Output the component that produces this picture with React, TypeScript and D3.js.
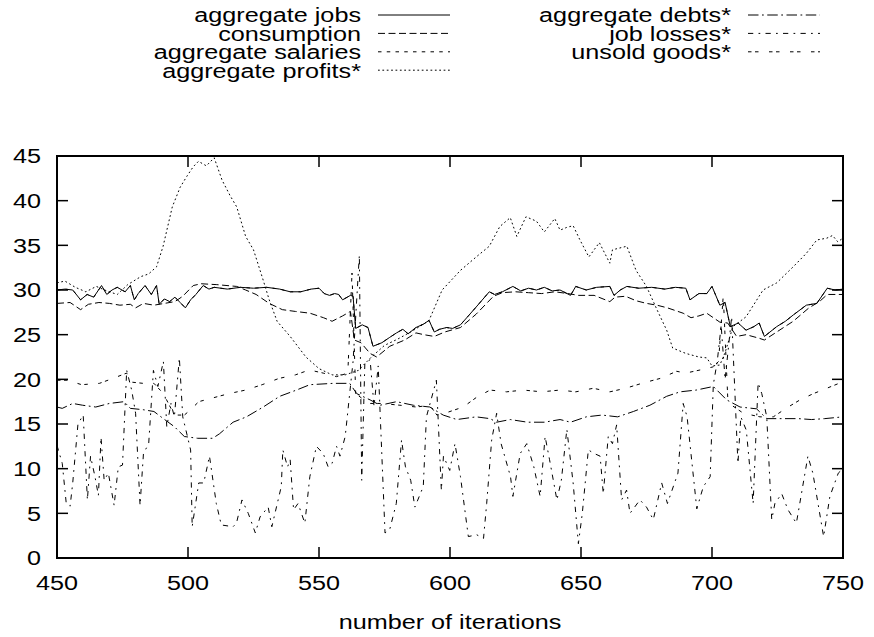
import React from "react";
import * as d3 from "d3";

type P = [number, number];

const xTicks = [450, 500, 550, 600, 650, 700, 750];
const yTicks = [0, 5, 10, 15, 20, 25, 30, 35, 40, 45];

const jobs: P[] = [[450,30.0],[453,30.1],[456,30.0],[459,28.9],[461.5,29.5],[464,29.2],[467,30.5],[469,29.5],[471,30],[473,30.3],[476,29.8],[478,30.5],[479.5,28.9],[481,29.6],[483.6,30.5],[486,29.5],[488,30.5],[489,28.4],[491,29],[493,28.7],[495,29.2],[497,28.6],[499,28.0],[501,28.9],[503,29.5],[505.8,30.5],[508,30.1],[510,30.3],[515,30.1],[520,30.3],[525,30.2],[530,30.3],[535,30.1],[539,29.8],[543,29.8],[547,30.1],[550,30.2],[552,29.6],[554,29.4],[556,29.6],[557.5,29.5],[559,28.9],[562,29.4],[563,29.3],[564,25.7],[566.5,26.1],[568.7,25.8],[570.6,23.7],[574,24.1],[577,24.7],[579.6,25.2],[582,25.6],[584,25.1],[587,25.8],[590,26.2],[592,26.6],[594,25.3],[596,25.6],[598.7,25.8],[601,25.7],[604,26.1],[607,27.1],[610,28.1],[615,29.8],[617,29.5],[620,29.8],[624,30.4],[627,29.9],[630,30.2],[633,30.0],[636,30.3],[639,29.9],[642,30.0],[646,29.4],[648,30.4],[652,30.0],[656,30.3],[661,30.4],[662.6,29.4],[665,30.0],[667.5,30.4],[672,30.2],[677,30.3],[682,30.1],[686,30.3],[690,30.2],[691.6,28.9],[695,29.6],[698,29.6],[700,30.4],[703,28.3],[705,28.6],[707,25.9],[710,26.3],[713,25.5],[716,25.9],[718,26.3],[720,24.8],[724.7,25.9],[728,26.5],[731,27.2],[736,28.3],[740,28.5],[744,30.2],[747,30.0],[750,30.1]];

const consumption: P[] = [[450,28.5],[455,28.6],[459,27.8],[462,28.4],[466,28.6],[470,28.5],[474,28.3],[478,28.4],[480,28],[483,28.5],[487,28.3],[491,28.5],[495,28.7],[498,29.3],[502,30.5],[505,30.7],[511,30.6],[518.6,30.4],[522,30.0],[526,29.5],[531,28.5],[536,27.8],[541,27.6],[546.6,27.4],[551.7,26.9],[555,26.5],[559,27.1],[562,27.6],[563.5,24.4],[566,24.1],[569.5,22.9],[572,22.5],[577,23.7],[582.7,24.4],[587,25.2],[590,25.0],[594,24.8],[598,25.3],[604,25.8],[610,27.3],[616.6,29.3],[620,29.7],[625,29.8],[630,29.7],[635,29.6],[640,29.8],[645,29.6],[649,29.4],[655,29.4],[661,28.7],[663,29.2],[667,29.3],[671,28.8],[675,28.5],[679,28.3],[683,28.0],[689,27.4],[692,26.9],[695,27.1],[698,27.4],[703,26.4],[706,26.3],[709.4,24.8],[713,25],[718,24.6],[720,24.4],[724.7,25.3],[731,26.5],[737,28.0],[741,28.7],[744,29.5],[750,29.5]];

// salaries lie on top of the jobs curve in the picture
const salaries: P[] = [[450,30.0],[453,30.1],[456,30.0],[459,28.9],[461.5,29.5],[464,29.2],[467,30.5],[469,29.5],[471,30],[473,30.3],[476,29.8],[478,30.5],[479.5,28.9],[481,29.6],[483.6,30.5],[486,29.5],[488,30.5],[489,28.4],[491,29],[493,28.7],[495,29.2],[497,28.6],[499,28.0],[501,28.9],[503,29.5],[505.8,30.5],[508,30.1],[510,30.3],[515,30.1],[520,30.3],[525,30.2],[530,30.3],[535,30.1],[539,29.8],[543,29.8],[547,30.1],[550,30.2],[552,29.6],[554,29.4],[556,29.6],[557.5,29.5],[559,28.9],[562,29.4],[563,29.3],[564,25.7],[566.5,26.1],[568.7,25.8],[570.6,23.7],[574,24.1],[577,24.7],[579.6,25.2],[582,25.6],[584,25.1],[587,25.8],[590,26.2],[592,26.6],[594,25.3],[596,25.6],[598.7,25.8],[601,25.7],[604,26.1],[607,27.1],[610,28.1],[615,29.8],[617,29.5],[620,29.8],[624,30.4],[627,29.9],[630,30.2],[633,30.0],[636,30.3],[639,29.9],[642,30.0],[646,29.4],[648,30.4],[652,30.0],[656,30.3],[661,30.4],[662.6,29.4],[665,30.0],[667.5,30.4],[672,30.2],[677,30.3],[682,30.1],[686,30.3],[690,30.2],[691.6,28.9],[695,29.6],[698,29.6],[700,30.4],[703,28.3],[705,28.6],[707,25.9],[710,26.3],[713,25.5],[716,25.9],[718,26.3],[720,24.8],[724.7,25.9],[728,26.5],[731,27.2],[736,28.3],[740,28.5],[744,30.2],[747,30.0],[750,30.1]];

const profits: P[] = [[450,30.8],[453,31],[457,30.3],[461,29.8],[465,30.4],[469,29.9],[473,29.5],[477,30.6],[482,31.5],[485,31.8],[488,32.6],[490.5,34.9],[494,39.3],[497,41.5],[499.5,42.7],[502,43.8],[504,44.4],[507,43.9],[510,44.8],[513,42.3],[516,40.6],[518.6,39.3],[522,36],[525,34.5],[528.7,31.1],[531,28.9],[534,26.5],[539,24.8],[545,22.5],[550,21.2],[555,20.5],[560,20.5],[565,21],[570,22.5],[575,23.8],[580,24.5],[585,25.3],[590,26.2],[592,26.6],[597,30],[604,32.2],[610,33.7],[615,34.9],[619,37.1],[623,38.1],[625.5,36],[629,38.2],[633,37.7],[636,36.5],[640,38],[642,36.7],[644.5,37],[647,37.2],[649.6,35.6],[653,33.7],[657,35.3],[661,33],[662,34.5],[667.5,34.9],[671,32.2],[675,30.4],[679,27.8],[682.7,25.5],[685,23.5],[690,22.9],[695,22.5],[698,22.4],[700,21.5],[703,21.6],[705,23],[708,25.9],[713,27],[719.5,30],[724.7,30.8],[731,32.6],[736,34.1],[740,35.6],[743.8,35.8],[746,36.1],[748,35.4],[750,35.8]];

const debts: P[] = [[450,16.9],[452,16.75],[456,17.3],[459.8,17.1],[464.8,16.9],[470,17.3],[475.6,17.5],[478,16.75],[482.9,16.6],[487,16.4],[490.6,15.6],[494.8,14.7],[498.6,13.6],[503.7,13.4],[509.4,13.4],[512,13.9],[517.2,15.2],[522.3,15.8],[528.7,16.9],[535,18.1],[541.4,18.8],[546.5,19.4],[555.4,19.55],[561.7,19.55],[564.4,18.4],[569.5,17.7],[573.3,17.1],[579.6,17.5],[586,17.1],[592.3,16.9],[597.4,16],[602.6,15.5],[610,15.8],[615.3,15.6],[617.8,15.2],[623,15.5],[629.6,15.2],[636,15.2],[642,15.5],[646,15.2],[652,15.8],[658,16],[664,15.8],[670,16.4],[676.3,17.1],[682.7,18.1],[687.8,18.6],[694,18.8],[700.5,19.2],[705.6,17.7],[710.7,16.9],[717,16.7],[720.9,15.6],[727,15.6],[733,15.6],[738,15.5],[743,15.6],[750,15.8]];

const jobLosses: P[] = [[450,12.6],[452,10.6],[453.5,6.2],[455,5.8],[456,8.4],[458,15],[460,16],[461.6,6.5],[462.8,11.4],[464.5,9.1],[465.8,7],[466.8,13.5],[468,8.7],[469.6,9.5],[471.8,5.9],[473.4,10.2],[475,10.4],[476.6,21],[478.5,18.8],[480,16.2],[481.7,5.9],[483,11.7],[485,12.8],[486.8,21],[488.5,19.2],[490.6,22],[491.9,14.7],[493.5,17.3],[494.8,15.8],[496.7,22.4],[498,15.8],[501,12.1],[501.6,3.5],[504.1,8.4],[506,8.4],[508.2,11.4],[510.8,6.1],[512.7,3.7],[517.2,3.5],[518.5,3.9],[520.6,6.5],[523,5],[525.7,2.8],[527.5,4.6],[530.6,5.7],[532,3.5],[535.6,8],[536.2,12.1],[538,10.2],[539,11],[540.3,5.4],[542,6.1],[544.6,3.9],[546.5,9.1],[549,12.5],[551.6,11.7],[553.5,10.2],[555,10.6],[556.7,12.5],[558,11.4],[560,13.6],[563,22],[565.4,33.9],[566.3,8.7],[567.5,21.8],[569.5,22.2],[571,17],[572.6,21.5],[575.2,2.8],[577,3.2],[579.5,6.1],[581.5,13.2],[583,10.2],[585,8.7],[586.6,5.7],[589.8,8.0],[591,15.8],[594.8,19.9],[596.7,7.6],[597.5,11.4],[599.9,9.8],[601.9,12.8],[604,9.1],[607,2.4],[610.2,2.6],[612.8,2.2],[614,6.1],[615.9,13.2],[617.8,16.2],[619.5,12.8],[623.1,9.1],[624,6.9],[626.8,11.7],[629.3,12.8],[632,10.2],[634.4,6.9],[636.3,13.6],[638,11],[640.8,6.5],[642.5,8.7],[644.6,14.4],[647,8.4],[649,1.6],[650.5,5],[652.8,12.1],[655,11.7],[657.3,11.4],[658.5,7.2],[660.4,13.6],[662,12.8],[663.6,14.9],[665.5,6.5],[667.4,7.6],[668.7,5],[672.5,6.5],[675,5.7],[677.6,4.3],[680.8,8.4],[683,6.1],[687,9.5],[689,17.3],[690.5,15.8],[694.2,5.5],[696.7,8],[699.3,9.1],[700.5,19.4],[702,22],[703.5,26],[705,20],[707.5,27],[709.9,10.6],[711,15.8],[713.1,14.3],[715.7,6.1],[717.6,19.6],[719,18.4],[720.9,15.8],[722.8,4.3],[724,6.1],[726.6,7.2],[729,5.4],[732.2,3.9],[733.5,6.1],[736.6,11.4],[738.5,9.5],[742.6,2.4],[745,6.9],[748.2,9.5],[750,10]];

const unsoldGoods: P[] = [[450,19.9],[454,19.9],[459.4,19.4],[466.2,19.55],[471.3,20.1],[476.6,20.7],[478,19.7],[482.9,19.55],[487,19.55],[490.6,18.4],[494.8,16],[498.6,16],[501,16.6],[504.1,17.5],[509.2,17.9],[515.6,18.4],[522,18.8],[528.3,19.4],[534.7,20.1],[541,20.5],[546.3,21.05],[551.6,20.7],[556.7,20.3],[561,20.7],[562.6,31.9],[564,18.4],[569,17.3],[574,17.3],[580.9,17.1],[587.2,16.9],[592.3,17.1],[595,16],[598,16.2],[605,16.9],[610.2,18],[615.3,18.8],[621.6,18.6],[628,18.8],[635,18.6],[642,18.8],[648,18.6],[654.7,19],[661,18.6],[667,19],[673.8,19.6],[680.2,20.1],[686.5,20.9],[690,20.7],[695.5,21.05],[700.5,21.4],[702.5,22],[704.3,29.4],[706,18],[708,17],[712,16.2],[718.3,15.8],[723.4,15.8],[728.5,16.8],[733.6,17.7],[738.7,18.4],[743.8,19],[748.9,19.6],[750,19.7]];

const seriesNames = ["aggregate jobs", "consumption", "aggregate salaries", "aggregate profits*", "aggregate debts*", "job losses*", "unsold goods*"];
const seriesData = [jobs, consumption, salaries, profits, debts, jobLosses, unsoldGoods];

const W = 874, H = 637;
const L = 57, R = 843, T = 156, B = 558;
const FONT = "'Liberation Sans', Arial, Helvetica, sans-serif";
const FS = 21;
const SX = 1.2;
const U = 1.75;
const dashes = [
  "none",
  `${4*U} ${2*U}`,
  `${2*U} ${3*U}`,
  `${1*U} ${1.5*U}`,
  `${6*U} ${2*U} ${1*U} ${2*U}`,
  `${3*U} ${3*U} ${1*U} ${3*U}`,
  `${2*U} ${2*U} ${2*U} ${6*U}`,
];
// draw order: salaries first so jobs sits on top
const drawOrder = [2, 6, 5, 4, 3, 1, 0];

function Label({ x, y, anchor, children }: { x: number; y: number; anchor: "start" | "middle" | "end"; children: React.ReactNode }) {
  return (
    <g transform={`translate(${x},${y}) scale(${SX},1)`}>
      <text x={0} y={0} dy="0.35em" textAnchor={anchor} fontSize={FS} fill="#000">{children}</text>
    </g>
  );
}

export default function App() {
  const x = d3.scaleLinear().domain([450, 750]).range([L, R]);
  const y = d3.scaleLinear().domain([0, 45]).range([B, T]);
  const line = d3.line<P>().x(d => x(d[0])).y(d => y(d[1]));

  const legendRows = [0, 1, 2, 3, 4, 5, 6].map(i => {
    const col = i < 4 ? 0 : 1;
    const row = i < 4 ? i : i - 4;
    return { i, col, row };
  });
  const colTextRight = [361, 731];
  const rowY = (r: number) => 15 + r * 18.4;

  return (
    <svg width={W} height={H} style={{ display: "block", position: "absolute", left: 0, top: 0, background: "#fff" }} fontFamily={FONT}>
      <rect x={0} y={0} width={W} height={H} fill="#fff" />
      <defs>
        <clipPath id="clip"><rect x={L} y={T - 2} width={R - L} height={B - T + 2} /></clipPath>
      </defs>
      {/* legend */}
      {legendRows.map(({ i, col, row }) => (
        <g key={i}>
          <Label x={colTextRight[col]} y={rowY(row)} anchor="end">{seriesNames[i]}</Label>
          <line x1={colTextRight[col] + 17} x2={colTextRight[col] + 89} y1={rowY(row)} y2={rowY(row)} stroke="#000" strokeWidth={1} strokeDasharray={dashes[i]} />
        </g>
      ))}
      {/* data */}
      <g clipPath="url(#clip)">
        {drawOrder.map(i => (
          <path key={i} d={line(seriesData[i]) || ""} fill="none" stroke="#000" strokeWidth={1} strokeDasharray={dashes[i]} />
        ))}
      </g>
      {/* ticks */}
      {xTicks.map(t => (
        <g key={"x" + t}>
          <line x1={x(t)} x2={x(t)} y1={B} y2={B - 11} stroke="#000" strokeWidth={1.5} />
          <line x1={x(t)} x2={x(t)} y1={T} y2={T + 11} stroke="#000" strokeWidth={1.5} />
          <Label x={x(t)} y={583} anchor="middle">{t}</Label>
        </g>
      ))}
      {yTicks.map(t => (
        <g key={"y" + t}>
          <line x1={L} x2={L + 11} y1={y(t)} y2={y(t)} stroke="#000" strokeWidth={1.5} />
          <line x1={R} x2={R - 11} y1={y(t)} y2={y(t)} stroke="#000" strokeWidth={1.5} />
          <Label x={41} y={y(t)} anchor="end">{t}</Label>
        </g>
      ))}
      <rect x={L} y={T} width={R - L} height={B - T} fill="none" stroke="#000" strokeWidth={2} />
      <Label x={(L + R) / 2} y={622} anchor="middle">number of iterations</Label>
    </svg>
  );
}
